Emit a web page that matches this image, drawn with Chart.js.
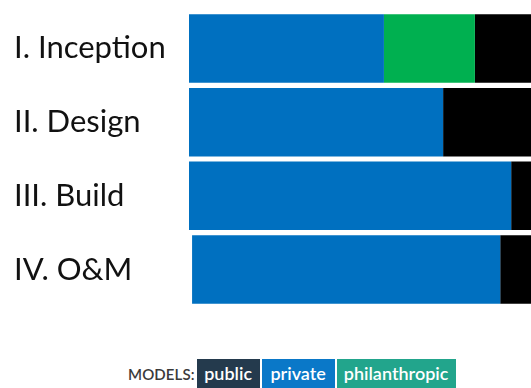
<!DOCTYPE html>
<html>
<head>
<meta charset="utf-8">
<script src="https://cdn.jsdelivr.net/npm/chart.js@4/dist/chart.umd.min.js"></script>
<style>
  html, body { margin: 0; padding: 0; background: #fff; }
  body { width: 531px; height: 388px; position: relative; overflow: hidden; font-family: Lato, sans-serif; }
  #wrap { position: absolute; left: 0; top: -10px; width: 531px; height: 338px; }
  .models { position: absolute; top: 359px; left: 128px; height: 29px; display: flex; align-items: stretch; }
  .models .lbl { color: #3a3a3a; font-size: 15px; font-weight: 600; line-height: 31px; margin-right: 2px; letter-spacing: 0.1px; }
  .models .box { color: #fff; font-size: 18px; font-weight: 600; line-height: 29px; text-align: center; margin-right: 2px; }
</style>
</head>
<body>
<div id="wrap"><canvas id="chart"></canvas></div>
<div class="models">
  <span class="lbl">MODELS:</span>
  <span class="box" style="background:#243a4d;width:63px">public</span>
  <span class="box" style="background:#0a78c8;width:73px">private</span>
  <span class="box" style="background:#22a58c;width:119px">philanthropic</span>
</div>
<script>
const stages = ['I. Inception', 'II. Design', 'III. Build', 'IV. O&M'];
// share of each phase (x axis runs 0..100 across the visible width)
const barStart = [0, 0, 0, 0.9];
const privateShare = [57.0, 74.3, 94.2, 90.1];
const philanthropicShare = [26.6, 0, 0, 0];
const publicShare = [20, 30, 10, 12];

const privateBars = privateShare.map((v, i) => [barStart[i], barStart[i] + v]);
const philBars = philanthropicShare.map((v, i) => [barStart[i] + privateShare[i], barStart[i] + privateShare[i] + v]);
const publicBars = publicShare.map((v, i) => {
  const s = barStart[i] + privateShare[i] + philanthropicShare[i];
  return [s, s + v];
});

new Chart(document.getElementById('chart'), {
  type: 'bar',
  data: {
    labels: stages,
    datasets: [
      { label: 'private', data: privateBars, backgroundColor: '#0070c0' },
      { label: 'philanthropic', data: philBars, backgroundColor: '#00b050' },
      { label: 'public', data: publicBars, backgroundColor: '#000000' }
    ]
  },
  options: {
    indexAxis: 'y',
    responsive: true,
    maintainAspectRatio: false,
    animation: false,
    layout: { padding: { left: 14, right: 0, top: 0, bottom: 0 } },
    plugins: { legend: { display: false }, tooltip: { enabled: false } },
    datasets: { bar: { grouped: false, categoryPercentage: 1, barPercentage: 0.93, borderWidth: 0 } },
    scales: {
      x: {
        display: false,
        min: 0,
        max: 100
      },
      y: {
        grid: { display: false },
        border: { display: false },
        afterFit: (scale) => { scale.width = 175; },
        ticks: {
          crossAlign: 'far',
          color: '#111',
          font: { family: 'Lato', size: 31 }
        }
      }
    }
  }
});
</script>
</body>
</html>
